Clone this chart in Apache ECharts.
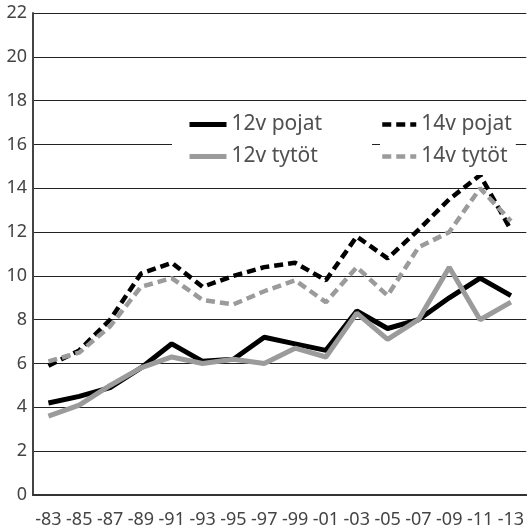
<!DOCTYPE html>
<html>
<head>
<meta charset="utf-8">
<script src="https://cdn.jsdelivr.net/npm/echarts@6/dist/echarts.min.js"></script>
<style>html,body{margin:0;padding:0;background:#fff}#c{width:527px;height:532px}</style>
</head>
<body>
<div id="c"></div>
<script>
const categories = ['-83','-85','-87','-89','-91','-93','-95','-97','-99','-01','-03','-05','-07','-09','-11','-13'];
const boys12 = [4.2,4.5,4.9,5.8,6.9,6.1,6.2,7.2,6.9,6.6,8.4,7.6,8.0,9.0,9.9,9.1];
const boys14 = [5.9,6.6,8.0,10.1,10.6,9.5,10.0,10.4,10.6,9.8,11.8,10.8,12.1,13.5,14.6,12.1];
const girls12 = [3.6,4.1,5.0,5.8,6.3,6.0,6.2,6.0,6.7,6.3,8.3,7.1,8.0,10.4,8.0,8.8];
const girls14 = [6.1,6.5,7.7,9.5,9.9,8.9,8.7,9.3,9.8,8.8,10.4,9.1,11.3,12.0,14.0,12.5];
const yTicks = {min: 0, max: 22, interval: 2};
const names = ['12v pojat','14v pojat','12v tytöt','14v tytöt'];

const font = '"Noto Sans", sans-serif';
const chart = echarts.init(document.getElementById('c'));
const legendText = {color: '#505050', fontSize: 21, fontFamily: font};
const hideSym = {color: 'rgba(0,0,0,0)', borderWidth: 0, opacity: 0};
chart.setOption({
  animation: false,
  backgroundColor: '#fff',
  grid: {left: 33, top: 13, width: 497, bottom: 37},
  legend: [
    {data: [names[0], names[2]], orient: 'vertical', left: 172, top: 106, itemWidth: 37, itemHeight: 14, itemGap: 11,
     padding: [8, 50, 8, 15], backgroundColor: '#fff', textStyle: legendText, itemStyle: hideSym, lineStyle: {width: 5}},
    {data: [names[1], names[3]], orient: 'vertical', left: 380, top: 106, itemWidth: 34, itemHeight: 14, itemGap: 11,
     padding: [8, 4, 8, 0], backgroundColor: '#fff', textStyle: legendText, itemStyle: hideSym, lineStyle: {width: 4.5}}
  ],
  xAxis: {
    type: 'category', data: categories, boundaryGap: true,
    axisLine: {lineStyle: {color: '#333', width: 2}},
    axisTick: {alignWithLabel: true, length: 12, lineStyle: {color: '#222', width: 2}},
    axisLabel: {interval: 0, color: '#444', fontSize: 18, fontFamily: font, margin: 16}
  },
  yAxis: {
    type: 'value', min: yTicks.min, max: yTicks.max, interval: yTicks.interval,
    axisLine: {show: true, lineStyle: {color: '#444', width: 2}},
    axisTick: {show: false},
    splitLine: {lineStyle: {color: '#222', width: 1}},
    axisLabel: {color: '#444', fontSize: 18, fontFamily: font, margin: 6}
  },
  series: [
    {name: names[0], type: 'line', data: boys12, symbol: 'none', lineStyle: {color: '#000', width: 5}, itemStyle: {color: '#000'}},
    {name: names[1], type: 'line', data: boys14, symbol: 'none', lineStyle: {color: '#000', width: 4.5, type: [9, 5]}, itemStyle: {color: '#000'}},
    {name: names[2], type: 'line', data: girls12, symbol: 'none', lineStyle: {color: '#9b9b9b', width: 5}, itemStyle: {color: '#9b9b9b'}},
    {name: names[3], type: 'line', data: girls14, symbol: 'none', lineStyle: {color: '#9b9b9b', width: 4.5, type: [9, 5]}, itemStyle: {color: '#9b9b9b'}}
  ]
});
</script>
</body>
</html>
